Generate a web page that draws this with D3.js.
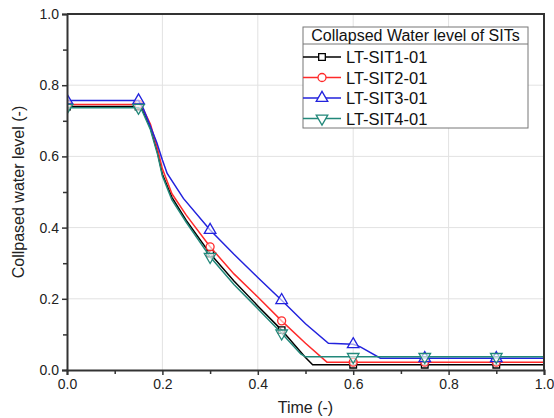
<!DOCTYPE html>
<html>
<head>
    <meta charset='utf-8'>
    <title>Collapsed water level</title>
    <script src='https://cdn.jsdelivr.net/npm/d3@7'></script>
    <style>
        body { margin: 0; background: #fff; }
        text { font-family: 'Liberation Sans', Arial, sans-serif; }
    </style>
</head>
<body>
    <svg width='554' height='418'></svg>
    <script>
        // series data (time, level)
        const seriesNames = ['LT-SIT1-01', 'LT-SIT2-01', 'LT-SIT3-01', 'LT-SIT4-01']
        const timeSIT1 = [0, 0.15, 0.157, 0.175, 0.19, 0.2, 0.22, 0.25, 0.3, 0.35, 0.4, 0.45, 0.5, 0.515, 0.6, 0.75, 0.9, 1.0]
        const levelSIT1 = [0.740, 0.740, 0.734, 0.680, 0.610, 0.550, 0.485, 0.420, 0.327, 0.250, 0.180, 0.112, 0.035, 0.015, 0.015, 0.015, 0.015, 0.015]
        const timeSIT2 = [0, 0.15, 0.158, 0.175, 0.19, 0.2, 0.22, 0.25, 0.3, 0.35, 0.4, 0.45, 0.5, 0.545, 0.6, 0.75, 0.9, 1.0]
        const levelSIT2 = [0.746, 0.746, 0.738, 0.690, 0.620, 0.565, 0.495, 0.435, 0.346, 0.270, 0.205, 0.138, 0.075, 0.022, 0.022, 0.022, 0.022, 0.022]
        const timeSIT3 = [0, 0.15, 0.16, 0.188, 0.2, 0.21, 0.244, 0.3, 0.35, 0.4, 0.45, 0.5, 0.548, 0.6, 0.615, 0.657, 0.75, 0.9, 1.0]
        const levelSIT3 = [0.757, 0.757, 0.734, 0.640, 0.590, 0.552, 0.482, 0.393, 0.325, 0.260, 0.196, 0.130, 0.075, 0.072, 0.065, 0.033, 0.033, 0.033, 0.033]
        const timeSIT4 = [0, 0.15, 0.157, 0.175, 0.19, 0.2, 0.22, 0.25, 0.3, 0.35, 0.4, 0.45, 0.49, 0.5, 0.6, 0.75, 0.9, 1.0]
        const levelSIT4 = [0.737, 0.737, 0.730, 0.675, 0.605, 0.545, 0.478, 0.415, 0.318, 0.240, 0.172, 0.103, 0.045, 0.037, 0.037, 0.037, 0.037, 0.037]
        const markerTimes = [0, 0.15, 0.3, 0.45, 0.6, 0.75, 0.9]
        const xTicks = [0, 0.2, 0.4, 0.6, 0.8, 1.0]
        const yTicks = [0, 0.2, 0.4, 0.6, 0.8, 1.0]
        const minorTicks = [0.1, 0.3, 0.5, 0.7, 0.9]

        const colors = ['#000000', '#ff2a2a', '#2222dd', '#22887a']
        const symbols = [d3.symbolSquare, d3.symbolCircle, d3.symbolTriangle, d3.symbolTriangle]
        const symbolSizes = [44, 50, 58, 58]
        const rotations = [0, 0, 0, 180]

        const series = [
            [timeSIT1, levelSIT1], [timeSIT2, levelSIT2],
            [timeSIT3, levelSIT3], [timeSIT4, levelSIT4]
        ].map(([t, v], i) => ({ name: seriesNames[i], points: t.map((d, j) => ({ t: d, v: v[j] })) }))

        const svg = d3.select('svg')
        const margin = { top: 14, right: 10, bottom: 48, left: 67 }
        const W = 554 - margin.left - margin.right
        const H = 418 - margin.top - margin.bottom

        const g = svg.append('g').attr('transform', `translate(${margin.left},${margin.top})`)

        const x = d3.scaleLinear().domain([0, 1]).range([0, W])
        const y = d3.scaleLinear().domain([0, 1]).range([H, 0])

        // grid
        g.append('g').selectAll('line').data(xTicks.slice(1, -1)).enter().append('line')
            .attr('x1', d => x(d)).attr('x2', d => x(d)).attr('y1', 0).attr('y2', H)
            .attr('stroke', '#e2e2e2')
        g.append('g').selectAll('line').data(yTicks.slice(1, -1)).enter().append('line')
            .attr('y1', d => y(d)).attr('y2', d => y(d)).attr('x1', 0).attr('x2', W)
            .attr('stroke', '#e2e2e2')

        // clip for curves and markers
        svg.append('defs').append('clipPath').attr('id', 'plotClip')
            .append('rect').attr('width', W).attr('height', H)

        const line = d3.line().x(d => x(d.t)).y(d => y(d.v))
        const plot = g.append('g').attr('clip-path', 'url(#plotClip)')

        series.forEach((s, i) => {
            plot.append('path').datum(s.points)
                .attr('d', line)
                .attr('fill', 'none')
                .attr('stroke', colors[i])
                .attr('stroke-width', 1.5)
            const sym = d3.symbol().type(symbols[i]).size(symbolSizes[i])
            plot.append('g').selectAll('path')
                .data(s.points.filter(p => markerTimes.includes(p.t)))
                .enter().append('path')
                .attr('d', sym)
                .attr('transform', d => `translate(${x(d.t)},${y(d.v)}) rotate(${rotations[i]})`)
                .attr('fill', 'white').attr('fill-opacity', 0.6)
                .attr('stroke', colors[i]).attr('stroke-width', 1.3)
        })

        // axes
        g.append('g').attr('transform', `translate(0,${H})`)
            .call(d3.axisBottom(x).tickValues(xTicks).tickFormat(d3.format('.1f')).tickSize(5).tickPadding(4))
        g.append('g')
            .call(d3.axisLeft(y).tickValues(yTicks).tickFormat(d3.format('.1f')).tickSize(5).tickPadding(3))
        // minor ticks
        g.append('g').attr('transform', `translate(0,${H})`)
            .call(d3.axisBottom(x).tickValues(minorTicks).tickFormat('').tickSize(4))
            .select('.domain').remove()
        g.append('g')
            .call(d3.axisLeft(y).tickValues(minorTicks).tickFormat('').tickSize(4))
            .select('.domain').remove()
        g.selectAll('.tick line').attr('stroke', '#333').attr('stroke-width', 1.5)
        g.selectAll('.domain').attr('stroke', '#333').attr('stroke-width', 2)
        g.selectAll('.tick text').attr('font-size', 14).attr('fill', '#222')
            .style('font-family', "'Liberation Sans', Arial, sans-serif")

        // top and right frame
        g.append('path').attr('d', `M0,0H${W}V${H}`)
            .attr('fill', 'none').attr('stroke', '#333').attr('stroke-width', 2)

        // axis labels
        svg.append('text').attr('x', margin.left + W / 2).attr('y', 413)
            .attr('text-anchor', 'middle').attr('font-size', 16).attr('fill', '#222')
            .text('Time (-)')
        svg.append('text').attr('transform', `translate(24,${margin.top + H / 2}) rotate(-90)`)
            .attr('text-anchor', 'middle').attr('font-size', 16).attr('fill', '#222')
            .text('Collpased water level (-)')

        // legend
        const lg = svg.append('g').attr('transform', 'translate(303,27)')
        const lgW = 225, lgH = 101
        lg.append('rect').attr('width', lgW).attr('height', lgH)
            .attr('fill', 'white').attr('stroke', '#777').attr('stroke-width', 1)
        lg.append('line').attr('x1', 0).attr('x2', lgW).attr('y1', 17).attr('y2', 17)
            .attr('stroke', '#777')
        lg.append('text').attr('x', lgW / 2).attr('y', 14).attr('text-anchor', 'middle')
            .attr('font-size', 16).attr('fill', '#111')
            .text('Collapsed Water level of SITs')
        series.forEach((s, i) => {
            const ly = 30 + i * 20.5
            const row = lg.append('g').attr('transform', `translate(0,${ly})`)
            row.append('line').attr('x1', 0).attr('x2', 38).attr('stroke', colors[i]).attr('stroke-width', 1.5)
            row.append('path').attr('d', d3.symbol().type(symbols[i]).size(symbolSizes[i])())
                .attr('transform', `translate(19,0) rotate(${rotations[i]})`)
                .attr('fill', 'white').attr('stroke', colors[i]).attr('stroke-width', 1.3)
            row.append('text').attr('x', 43).attr('y', 6).attr('font-size', 16.5).attr('fill', '#111')
                .text(s.name)
        })
    </script>
</body>
</html>
